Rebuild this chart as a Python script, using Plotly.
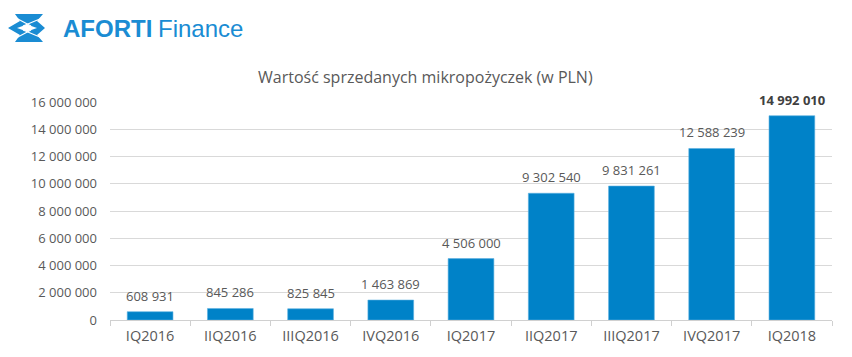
import plotly.graph_objects as go

categories = ["IQ2016", "IIQ2016", "IIIQ2016", "IVQ2016", "IQ2017",
              "IIQ2017", "IIIQ2017", "IVQ2017", "IQ2018"]
values = [608931, 845286, 825845, 1463869, 4506000,
          9302540, 9831261, 12588239, 14992010]
y_ticks = [0, 2000000, 4000000, 6000000, 8000000, 10000000,
           12000000, 14000000, 16000000]

def fmt(v):
    return f"{v:,}".replace(",", " ")

W, H = 852, 357
L, R, T, B = 110, 20, 102, 37
PW, PH = W - L - R, H - T - B

def px(x):
    return (x - L) / PW

def py(y):
    return (H - B - y) / PH

BLUE = "#0082C8"
GRAY = "#595959"

fig = go.Figure()
fig.add_trace(go.Bar(
    x=categories, y=values,
    marker=dict(color=BLUE, line=dict(color="#5AB0E0", width=0.6)),
    hoverinfo="skip",
))

annotations = []
for i, (c, v) in enumerate(zip(categories, values)):
    last = i == len(values) - 1
    annotations.append(dict(
        x=c, y=v, xref="x", yref="y", text=(f"<b>{fmt(v)}</b>" if last else fmt(v)),
        showarrow=False, yanchor="bottom", yshift=5,
        font=dict(family="Open Sans", size=13, color="#404040" if last else GRAY),
    ))

# title
annotations.append(dict(
    x=px(425), y=py(77), xref="paper", yref="paper",
    text="Wartość sprzedanych mikropożyczek (w PLN)", showarrow=False,
    xanchor="center", yanchor="middle",
    font=dict(family="Open Sans", size=16, color=GRAY),
))
# logo text
LOGO = "#1A8CD3"
annotations.append(dict(
    x=px(61), y=py(28), xref="paper", yref="paper", text="<b>AFORTI</b>",
    showarrow=False, xanchor="left", yanchor="middle",
    font=dict(family="Liberation Sans", size=24, color=LOGO),
))
annotations.append(dict(
    x=px(156), y=py(28), xref="paper", yref="paper", text="Finance",
    showarrow=False, xanchor="left", yanchor="middle",
    font=dict(family="Liberation Sans", size=24, color=LOGO),
))

def path(points):
    s = "M " + " L ".join(f"{px(a):.5f},{py(b):.5f}" for a, b in points) + " Z"
    return s

shapes = []
# logo icon: outer body
shapes.append(dict(type="path", xref="paper", yref="paper",
                   path=path([(15, 14), (43, 14), (37, 21), (45, 28), (37, 35),
                              (43, 42), (15, 42), (20, 35), (8, 28), (20, 21)]),
                   fillcolor=LOGO, line=dict(width=0), layer="above"))
# inner hollow diamond
shapes.append(dict(type="path", xref="paper", yref="paper",
                   path=path([(17, 28), (27, 24.5), (37, 28), (27, 31.5)]),
                   fillcolor="white", line=dict(width=0), layer="above"))
# white crossing cuts
for seg in [((17, 18.5), (31, 26)), ((41, 18.5), (23, 26)),
            ((17, 37.5), (31, 30)), ((41, 37.5), (23, 30))]:
    (x0, y0), (x1, y1) = seg
    shapes.append(dict(type="line", xref="paper", yref="paper",
                       x0=px(x0), y0=py(y0), x1=px(x1), y1=py(y1),
                       line=dict(color="white", width=1.2), layer="above"))

fig.update_layout(
    width=W, height=H,
    margin=dict(l=L, r=R, t=T, b=B),
    paper_bgcolor="white", plot_bgcolor="white",
    showlegend=False,
    bargap=0.43,
    annotations=annotations,
    shapes=shapes,
    xaxis=dict(
        type="category", showgrid=False, showline=True, linecolor="#D0D0D0",
        linewidth=1, ticks="outside", tickson="boundaries", ticklen=5,
        tickcolor="#D0D0D0", tickfont=dict(family="Open Sans", size=14.5, color=GRAY),
        ticklabelstandoff=3,
        fixedrange=True,
    ),
    yaxis=dict(
        range=[0, 16000000], tickvals=y_ticks, ticktext=[fmt(v) for v in y_ticks],
        showgrid=True, gridcolor="#D9D9D9", gridwidth=1, zeroline=False,
        showline=False, ticks="", ticklabelstandoff=12,
        tickfont=dict(family="Open Sans", size=13, color=GRAY),
        fixedrange=True,
    ),
)

fig.write_html("out.html")
